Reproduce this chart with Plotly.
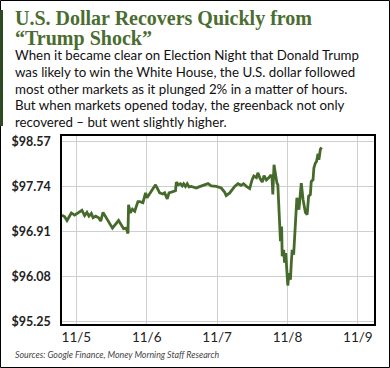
import plotly.graph_objects as go

# Hours since 11/5 00:00
hours = [-4.9, -4.0, -3.2, -1.7, -0.6, 0.55, 1.9, 2.8, 3.6, 4.3, 5.1, 5.7, 6.6, 7.6, 8.3, 9.1,
         10.6, 12.3, 14.4, 16.1, 17.0, 17.6, 17.8, 18.4, 19.1, 19.9, 21.0, 21.6, 22.7, 23.6,
         24.1, 25.6, 27.0, 28.4, 29.5, 30.1, 31.0, 31.6, 32.9, 33.8, 34.1, 34.8, 35.5, 36.1,
         36.6, 37.2, 37.8, 38.4, 39.2, 40.1, 40.9, 41.8, 43.2, 44.9, 46.0, 47.7, 49.4, 50.6,
         51.1, 52.3, 54.0, 55.1, 56.2, 57.0, 58.0, 59.1, 59.9, 60.5, 61.4, 61.9, 62.7, 63.4,
         64.0, 64.8, 65.6, 66.2, 66.7, 67.0, 67.4, 67.8, 68.4, 68.7, 69.0, 69.3, 69.6, 70.0,
         70.2, 70.7, 71.0, 71.4, 71.8, 72.1, 72.5, 73.0, 73.3, 73.6, 74.1, 74.8, 75.2, 75.9,
         76.7, 77.3, 78.1, 78.7, 79.2, 79.8, 80.1, 80.7, 81.0, 81.5, 81.9, 82.4, 82.7, 83.2, 83.6]
usd = [97.22, 97.19, 97.12, 97.26, 97.22, 97.26, 97.31, 97.21, 97.27, 97.20, 97.25, 97.17, 97.20,
       97.17, 97.11, 97.27, 97.14, 96.98, 97.12, 96.97, 96.98, 96.88, 97.41, 97.26, 97.33, 97.29,
       97.47, 97.47, 97.45, 97.63, 97.54, 97.66, 97.78, 97.63, 97.61, 97.63, 97.52, 97.63, 97.66,
       97.67, 97.83, 97.78, 97.80, 97.76, 97.80, 97.75, 97.80, 97.74, 97.75, 97.74, 97.72, 97.74,
       97.77, 97.80, 97.76, 97.75, 97.72, 97.64, 97.58, 97.63, 97.75, 97.80, 97.77, 97.80, 97.75,
       97.71, 97.87, 97.94, 97.91, 98.00, 97.89, 97.83, 97.95, 97.87, 97.91, 97.95, 97.94, 97.60,
       98.15, 98.00, 97.81, 97.78, 97.45, 97.08, 96.74, 97.01, 96.46, 96.58, 96.34, 96.52, 96.09,
       95.92, 96.15, 96.03, 96.34, 96.58, 96.49, 97.17, 97.54, 97.32, 97.81, 97.51, 97.27, 97.23,
       97.57, 97.60, 97.84, 97.87, 98.09, 98.18, 98.21, 98.35, 98.24, 98.43, 98.47]

y_ticks = [95.25, 96.08, 96.91, 97.74, 98.57]
y_labels = ["$95.25", "$96.08", "$96.91", "$97.74", "$98.57"]
x_ticks = [0, 24, 48, 72, 96]
x_labels = ["11/5", "11/6", "11/7", "11/8", "11/9"]

title_lines = ["U.S. Dollar Recovers Quickly from", "\u201cTrump Shock\u201d"]
body_lines = [
    "When it became clear on Election Night that Donald Trump",
    "was likely to win the White House, the U.S. dollar followed",
    "most other markets as it plunged 2% in a matter of hours.",
    "But when markets opened today, the greenback not only",
    "recovered \u2013 but went slightly higher.",
]
source = "Sources: Google Finance, Money Morning Staff Research"

W, H = 390, 368
L, R, T, B = 62, 16, 136, 44
pw, ph = W - L - R, H - T - B

def px(x):
    return (x - L) / pw

def py(y):
    return (H - B - y) / ph

GREEN = "#4a6d30"

fig = go.Figure(go.Scatter(x=hours, y=usd, mode="lines",
                           line=dict(color="#466a2b", width=2.8), hoverinfo="skip"))

fig.update_layout(
    width=W, height=H, margin=dict(l=L, r=R, t=T, b=B),
    paper_bgcolor="white", plot_bgcolor="white", showlegend=False,
    xaxis=dict(range=[-4.9, 101.5], tickvals=x_ticks, ticktext=x_labels,
               showgrid=True, gridcolor="#cfcfcf", gridwidth=1,
               showline=True, linecolor="black", linewidth=1.5, mirror=True,
               zeroline=False, ticks="",
               tickfont=dict(family="Lato", size=13.5, color="#222")),
    yaxis=dict(range=[95.21, 98.68], tickvals=y_ticks, ticktext=y_labels,
               showgrid=True, gridcolor="#cfcfcf", gridwidth=1,
               showline=True, linecolor="black", linewidth=1.5, mirror=True,
               zeroline=False, ticks="", ticklabelstandoff=7,
               tickfont=dict(family="Lato", size=12.5, color="#222", weight="bold")),
)

ann = []
for i, t in enumerate(title_lines):
    ann.append(dict(text="<b>" + t + "</b>", x=px(13), y=py(18 + 20 * i), xref="paper", yref="paper",
                    xanchor="left", yanchor="middle", showarrow=False,
                    font=dict(family="Liberation Serif", size=20, color=GREEN)))
for i, t in enumerate(body_lines):
    ann.append(dict(text=t, x=px(13), y=py(55 + 16.8 * i), xref="paper", yref="paper",
                    xanchor="left", yanchor="middle", showarrow=False,
                    font=dict(family="Lato", size=13.3, color="#111")))
ann.append(dict(text="<i>" + source + "</i>", x=px(13), y=py(354), xref="paper", yref="paper",
                xanchor="left", yanchor="middle", showarrow=False,
                font=dict(family="Lato", size=8.8, color="#444")))
fig.update_layout(annotations=ann)

fig.update_layout(shapes=[
    dict(type="rect", xref="paper", yref="paper", x0=px(0.5), x1=px(389.5), y0=py(0.5), y1=py(367.5),
         line=dict(color="black", width=1), layer="above"),
    dict(type="rect", xref="paper", yref="paper", x0=px(0), x1=px(3), y0=py(10), y1=py(126),
         line=dict(width=0), fillcolor="#2f4a22", layer="above"),
])

fig.write_html("out.html", config={"displayModeBar": False},
               post_script="document.body.style.margin='0';")
